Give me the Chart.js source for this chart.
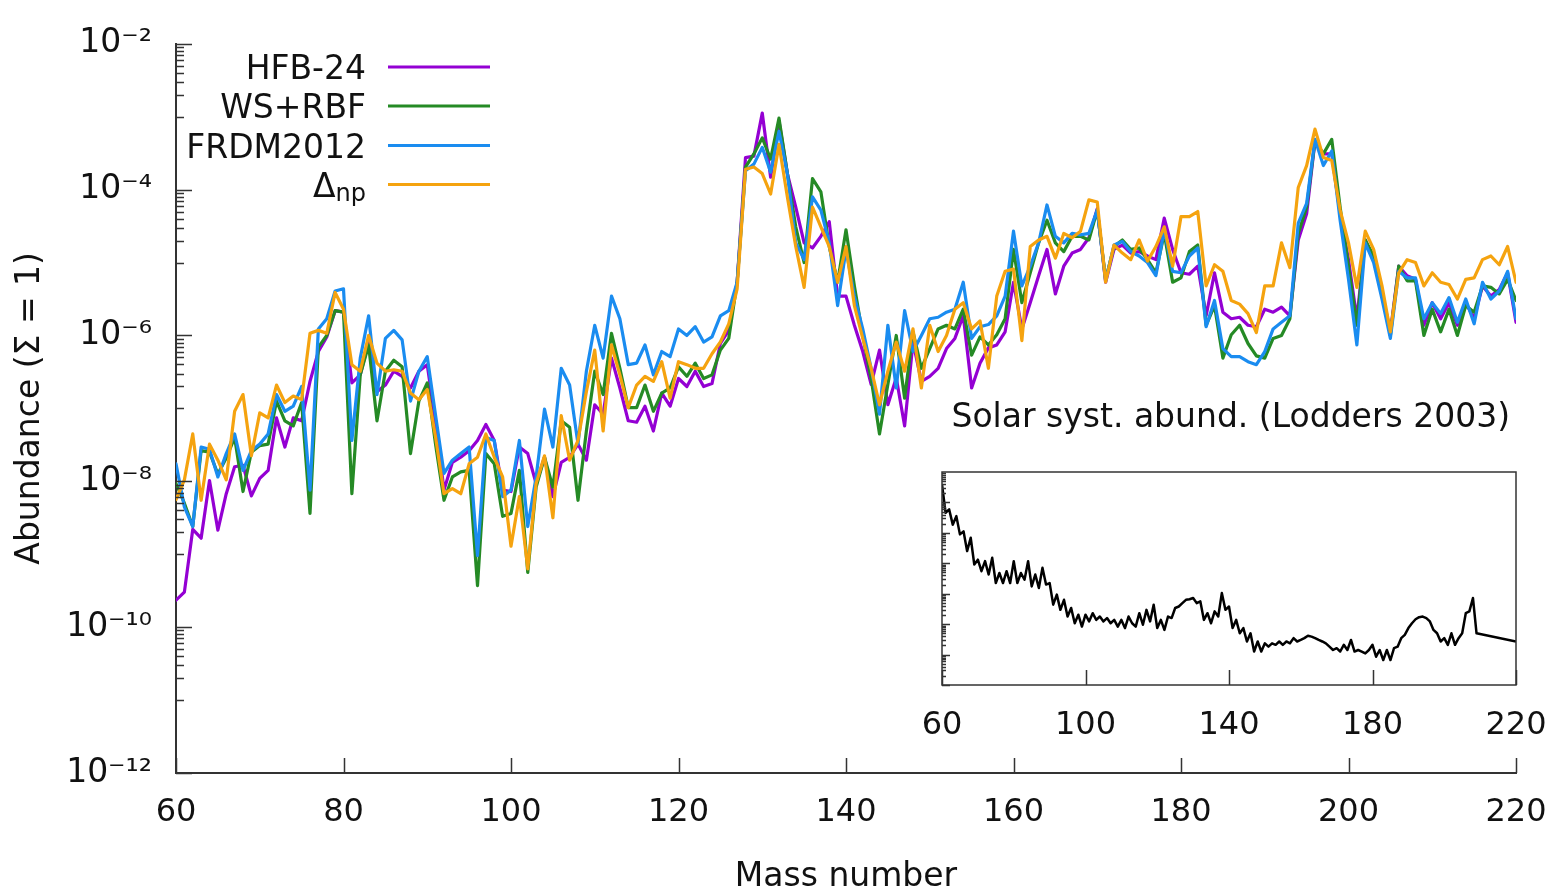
<!DOCTYPE html>
<html>
<head>
<meta charset="utf-8">
<title>r-process abundances</title>
<script src="https://cdn.jsdelivr.net/npm/chart.js@4.4.1/dist/chart.umd.min.js"></script>
<style>
    html, body { margin: 0; padding: 0; background: #ffffff; }
    #wrap { position: relative; width: 1555px; height: 888px; }
    #wrap canvas { position: absolute; left: 0; top: 0; }
</style>
</head>
<body>
<div id="wrap">
    <canvas id="main" width="1555" height="888"></canvas>
    <canvas id="inset" width="1555" height="888"></canvas>
</div>
<script>
// Mass numbers run from massFirst to massLast, one value per mass number.
var massFirst = 60;
var massLast = 220;

// log10 of the abundance, A = 60 ... 220
var hfb24Log = [
    -9.63, -9.52, -8.66, -8.78, -7.99, -8.67, -8.17, -7.80, -7.78, -8.20,
    -7.96, -7.85, -7.13, -7.53, -7.13, -7.17, -6.63, -6.22, -6.02, -5.66,
    -5.68, -6.65, -6.54, -6.09, -6.77, -6.68, -6.49, -6.56, -6.72, -6.49,
    -6.40, -7.20, -8.12, -7.74, -7.67, -7.58, -7.44, -7.22, -7.44, -8.12,
    -8.14, -7.53, -7.62, -8.03, -7.67, -8.21, -7.74, -7.67, -7.49, -7.71,
    -6.95, -7.08, -6.31, -6.72, -7.17, -7.19, -6.97, -7.31, -6.79, -6.97,
    -6.59, -6.70, -6.49, -6.70, -6.66, -6.11, -5.93, -5.27, -3.56, -3.54,
    -2.95, -3.83, -3.06, -3.78, -4.24, -4.73, -4.80, -4.64, -4.44, -5.46,
    -5.46, -5.86, -6.22, -6.67, -6.20, -6.95, -6.58, -7.24, -6.09, -6.63,
    -6.56, -6.45, -6.18, -6.04, -5.73, -6.72, -6.38, -6.17, -6.13, -5.95,
    -5.27, -5.91, -5.55, -5.18, -4.82, -5.43, -5.05, -4.87, -4.82, -4.66,
    -4.26, -5.27, -4.82, -4.76, -4.87, -4.85, -4.91, -4.96, -4.39, -4.82,
    -5.14, -5.16, -5.05, -5.73, -5.14, -5.68, -5.77, -5.75, -5.86, -5.88,
    -5.64, -5.68, -5.61, -5.73, -4.69, -4.33, -3.33, -3.51, -3.51, -4.33,
    -4.96, -5.77, -4.69, -4.96, -5.41, -5.95, -5.05, -5.18, -5.23, -5.86,
    -5.55, -5.77, -5.55, -5.86, -5.55, -5.77, -5.32, -5.46, -5.37, -5.14,
    -5.82
];

var wsrbfLog = [
    -8.03, -8.30, -8.62, -7.58, -7.60, -7.90, -7.68, -7.40, -8.14, -7.60,
    -7.51, -7.49, -6.90, -7.17, -7.24, -6.92, -8.44, -6.16, -6.00, -5.66,
    -5.68, -8.17, -6.54, -6.13, -7.17, -6.49, -6.34, -6.43, -7.62, -6.90,
    -6.65, -7.50, -8.26, -7.94, -7.87, -7.85, -9.43, -7.62, -7.76, -8.48,
    -8.44, -7.85, -9.25, -8.08, -7.67, -8.08, -7.17, -7.26, -8.26, -7.31,
    -6.49, -6.81, -5.97, -6.45, -6.99, -6.99, -6.68, -7.04, -6.79, -6.72,
    -6.43, -6.56, -6.38, -6.59, -6.54, -6.20, -6.04, -5.27, -3.69, -3.51,
    -3.29, -3.58, -3.02, -3.78, -4.51, -5.00, -3.85, -4.03, -4.78, -5.27,
    -4.55, -5.32, -6.00, -6.59, -7.35, -6.67, -6.00, -6.86, -5.95, -6.45,
    -6.18, -5.91, -5.86, -5.91, -5.64, -6.27, -6.02, -6.13, -5.99, -5.77,
    -4.82, -5.55, -5.14, -4.73, -4.42, -4.73, -4.85, -4.64, -4.64, -4.69,
    -4.28, -5.23, -4.78, -4.69, -4.82, -4.80, -4.96, -5.14, -4.60, -5.27,
    -5.21, -4.85, -4.76, -5.86, -5.59, -6.31, -5.99, -5.86, -6.11, -6.28,
    -6.31, -6.04, -6.00, -5.77, -4.60, -4.24, -3.33, -3.51, -3.31, -4.24,
    -5.05, -5.86, -4.69, -4.91, -5.41, -6.00, -5.05, -5.25, -5.25, -6.00,
    -5.64, -5.95, -5.64, -6.00, -5.59, -5.68, -5.32, -5.34, -5.43, -5.23,
    -5.52
];

var frdm2012Log = [
    -7.76, -8.35, -8.62, -7.53, -7.56, -7.94, -7.62, -7.35, -7.85, -7.58,
    -7.49, -7.35, -6.81, -7.04, -6.97, -6.70, -8.12, -5.91, -5.77, -5.39,
    -5.36, -7.44, -6.31, -5.73, -6.81, -6.04, -5.93, -6.06, -6.90, -6.49,
    -6.29, -7.10, -7.89, -7.71, -7.62, -7.53, -9.02, -7.40, -7.44, -8.21,
    -8.12, -7.44, -8.62, -7.94, -7.01, -7.53, -6.45, -6.68, -7.49, -6.49,
    -5.86, -6.31, -5.46, -5.77, -6.40, -6.38, -6.13, -6.54, -6.22, -6.29,
    -5.91, -6.00, -5.88, -6.09, -6.02, -5.73, -5.66, -5.27, -3.74, -3.65,
    -3.42, -3.76, -3.20, -3.78, -4.73, -4.96, -4.10, -4.28, -4.73, -5.59,
    -4.82, -5.46, -5.91, -6.45, -7.08, -5.86, -6.72, -5.66, -6.22, -6.00,
    -5.77, -5.75, -5.68, -5.64, -5.27, -6.04, -5.88, -5.85, -5.73, -5.46,
    -4.57, -5.32, -5.05, -4.73, -4.21, -4.64, -4.73, -4.60, -4.62, -4.60,
    -4.28, -5.25, -4.76, -4.71, -4.85, -4.91, -5.00, -5.18, -4.55, -5.12,
    -5.14, -4.91, -4.80, -5.88, -5.52, -6.18, -6.29, -6.29, -6.36, -6.40,
    -6.22, -5.91, -5.82, -5.73, -4.46, -4.19, -3.31, -3.67, -3.47, -4.42,
    -5.23, -6.13, -4.73, -5.00, -5.50, -6.04, -5.12, -5.21, -5.21, -5.77,
    -5.55, -5.70, -5.48, -5.82, -5.50, -5.84, -5.27, -5.50, -5.39, -5.12,
    -5.77
];

var deltaNpLog = [
    -8.25, -7.98, -7.35, -8.26, -7.49, -7.71, -7.98, -7.04, -6.81, -7.65,
    -7.06, -7.13, -6.68, -6.92, -6.83, -6.88, -5.97, -5.93, -5.97, -5.41,
    -5.64, -6.40, -6.49, -6.00, -6.38, -6.49, -6.47, -6.49, -6.79, -6.88,
    -6.74, -7.40, -8.17, -8.10, -8.17, -7.76, -7.67, -7.35, -7.67, -7.94,
    -8.89, -8.21, -9.20, -8.03, -7.65, -8.50, -7.10, -7.71, -7.44, -6.77,
    -6.20, -7.31, -6.13, -6.54, -6.99, -6.68, -6.56, -6.63, -6.36, -6.86,
    -6.36, -6.40, -6.45, -6.45, -6.25, -6.09, -5.84, -5.36, -3.72, -3.69,
    -3.78, -4.06, -3.38, -4.10, -4.78, -5.34, -4.24, -4.51, -4.78, -5.27,
    -4.78, -5.59, -6.04, -6.45, -6.95, -6.49, -6.09, -6.49, -5.91, -6.72,
    -5.86, -6.22, -6.00, -5.64, -5.55, -5.91, -5.80, -6.45, -5.46, -5.12,
    -5.09, -6.07, -4.78, -4.69, -4.64, -4.94, -4.60, -4.66, -4.57, -4.14,
    -4.17, -5.27, -4.76, -4.87, -4.96, -4.69, -4.98, -4.78, -4.51, -5.05,
    -4.37, -4.37, -4.30, -5.32, -5.03, -5.12, -5.52, -5.57, -5.70, -5.96,
    -5.32, -5.32, -4.73, -5.07, -3.97, -3.67, -3.17, -3.56, -3.60, -4.28,
    -4.73, -5.34, -4.57, -4.82, -5.32, -5.95, -5.14, -4.96, -5.00, -5.32,
    -5.14, -5.27, -5.30, -5.50, -5.23, -5.21, -4.96, -4.91, -5.03, -4.78,
    -5.27
];

// Solar system abundances for the inset (arbitrary decade offset), null = no point
var solarLog = [
    -2.41, -3.34, -3.23, -3.73, -3.45, -4.05, -3.95, -4.60, -4.16, -5.04,
    -4.88, -5.26, -4.93, -5.37, -4.82, -5.65, -5.32, -5.65, -5.26, -5.65,
    -4.93, -5.65, -5.32, -5.54, -4.93, -5.76, -5.37, -5.81, -5.15, -5.70,
    -5.65, -6.36, -6.03, -6.53, -6.20, -6.75, -6.47, -6.97, -6.69, -7.08,
    -6.69, -6.91, -6.64, -6.86, -6.75, -6.91, -6.80, -6.97, -6.86, -7.08,
    -6.86, -7.13, -6.75, -6.97, -7.08, -6.64, -7.02, -6.53, -6.91, -6.36,
    -7.13, -6.86, -7.19, -6.75, -6.80, -6.47, -6.42, -6.31, -6.20, -6.18,
    -6.14, -6.31, -6.25, -6.86, -6.64, -6.97, -6.58, -6.75, -5.98, -6.53,
    -6.42, -7.13, -6.86, -7.30, -7.13, -7.57, -7.30, -7.90, -7.57, -7.90,
    -7.63, -7.74, -7.63, -7.68, -7.57, -7.68, -7.57, -7.63, -7.46, -7.57,
    -7.52, -7.46, -7.38, -7.41, -7.46, -7.52, -7.57, -7.63, -7.74, -7.85,
    -7.79, -7.90, -7.68, -7.85, -7.52, -7.90, -7.85, -7.90, -7.96, -7.85,
    -7.68, -8.07, -7.85, -8.18, -7.85, -8.18, -7.79, -7.74, -7.46, -7.35,
    -7.13, -6.97, -6.84, -6.77, -6.75, -6.80, -6.91, -7.19, -7.30, -7.57,
    -7.46, -7.68, -7.30, -7.68, -7.46, -7.30, -6.64, -6.58, -6.14, -7.30,
    null, null, null, null, null, null, null, null, null, null,
    -7.57
];

var seriesNames = ['HFB-24', 'WS+RBF', 'FRDM2012', 'Δ'];
var seriesSubs = ['', '', '', 'np'];

var mainTicksX = [60, 80, 100, 120, 140, 160, 180, 200, 220];
var mainTicksY = [1e-12, 1e-10, 1e-8, 1e-6, 1e-4, 1e-2];
var insetTicksX = [60, 100, 140, 180, 220];
var insetLabel = 'Solar syst. abund. (Lodders 2003)';

(function () {

    var FONT = 'DejaVu Sans';
    var AXIS_COLOR = '#333333';
    var TEXT_COLOR = '#111111';
    var COLORS = ['#9400d3', '#258a25', '#1a8cf0', '#f5a30f'];
    var SUPER = { '-': '\u207b', '0': '\u2070', '1': '\u00b9', '2': '\u00b2', '3': '\u00b3',
        '4': '\u2074', '5': '\u2075', '6': '\u2076', '7': '\u2077', '8': '\u2078', '9': '\u2079' };

    /**
     * Builds {x, y} points from a list of log10 abundances.
     */
    function toPoints(logs) {
        var points = [], i;
        for (i = 0; i < logs.length; i++) {
            if (logs[i] === null) {
                continue;
            }
            points.push({ x: massFirst + i, y: Math.pow(10, logs[i]) });
        }
        return points;
    }

    function powerLabel(value) {
        var exp = String(Math.round(Math.log10(value)));
        return '10' + exp.split('').map(function (c) { return SUPER[c]; }).join('');
    }

    function fixedTicks(list) {
        return function (axis) {
            axis.ticks = list.map(function (v) { return { value: v }; });
        };
    }

    // Fixed axis height; the end labels must not push the plot area inwards.
    function fitHeight(height) {
        return function (scale) {
            scale.height = height;
            scale.paddingLeft = 0;
            scale.paddingRight = 0;
        };
    }

    /**
     * Inward tick marks and the legend of the main panel.
     */
    var mainDecor = {
        id: 'mainDecor',
        afterDraw: function (chart) {
            var ctx = chart.ctx, xs = chart.scales.x, ys = chart.scales.y;
            var area = chart.chartArea, e, k, py, px, i, rowY, name, w;

            ctx.save();
            ctx.strokeStyle = AXIS_COLOR;
            ctx.lineWidth = 1.5;
            ctx.beginPath();
            for (e = -12; e <= -2; e++) {
                if (e % 2 === 0) {
                    py = Math.round(ys.getPixelForValue(Math.pow(10, e))) + 0.5;
                    ctx.moveTo(area.left, py);
                    ctx.lineTo(area.left + 16, py);
                } else {
                    for (k = 1; k <= 9; k++) {
                        py = Math.round(ys.getPixelForValue(k * Math.pow(10, e))) + 0.5;
                        ctx.moveTo(area.left, py);
                        ctx.lineTo(area.left + 8, py);
                    }
                }
            }
            mainTicksX.forEach(function (v) {
                px = Math.round(xs.getPixelForValue(v)) + 0.5;
                ctx.moveTo(px, area.bottom);
                ctx.lineTo(px, area.bottom - 15);
            });
            ctx.stroke();

            // Legend: text right aligned, sample line to its right.
            rowY = [67, 106, 145.5, 184.5];
            ctx.fillStyle = TEXT_COLOR;
            ctx.textAlign = 'right';
            ctx.textBaseline = 'alphabetic';
            ctx.lineWidth = 3;
            for (i = 0; i < seriesNames.length; i++) {
                name = seriesNames[i];
                if (seriesSubs[i]) {
                    ctx.font = '24px "' + FONT + '"';
                    w = ctx.measureText(seriesSubs[i]).width;
                    ctx.fillText(seriesSubs[i], 366, rowY[i] + 16);
                    ctx.font = '33px "' + FONT + '"';
                    ctx.fillText(name, 366 - w, rowY[i] + 12);
                } else {
                    ctx.font = '33px "' + FONT + '"';
                    ctx.fillText(name, 366, rowY[i] + 12);
                }
                ctx.strokeStyle = COLORS[i];
                ctx.beginPath();
                ctx.moveTo(388, rowY[i]);
                ctx.lineTo(490, rowY[i]);
                ctx.stroke();
            }
            ctx.restore();
        }
    };

    /**
     * Frame, inward ticks and caption of the inset.
     */
    var insetDecor = {
        id: 'insetDecor',
        afterDraw: function (chart) {
            var ctx = chart.ctx, xs = chart.scales.x, ys = chart.scales.y;
            var area = chart.chartArea, e, k, py, px;

            ctx.save();
            ctx.strokeStyle = AXIS_COLOR;
            ctx.lineWidth = 1.5;
            ctx.strokeRect(area.left, area.top, area.right - area.left, area.bottom - area.top);
            ctx.beginPath();
            for (e = -9; e < -2; e++) {
                for (k = 1; k <= 9; k++) {
                    py = Math.round(ys.getPixelForValue(k * Math.pow(10, e))) + 0.5;
                    ctx.moveTo(area.left, py);
                    ctx.lineTo(area.left + (k === 1 ? 8 : 4), py);
                }
            }
            insetTicksX.forEach(function (v) {
                px = Math.round(xs.getPixelForValue(v)) + 0.5;
                ctx.moveTo(px, area.bottom);
                ctx.lineTo(px, area.bottom - 15);
            });
            ctx.stroke();

            ctx.fillStyle = TEXT_COLOR;
            ctx.font = '33px "' + FONT + '"';
            ctx.textAlign = 'right';
            ctx.textBaseline = 'alphabetic';
            ctx.fillText(insetLabel, 1510, 427);
            ctx.restore();
        }
    };

    var logs = [hfb24Log, wsrbfLog, frdm2012Log, deltaNpLog];
    var datasets = logs.map(function (list, i) {
        return {
            label: seriesNames[i] + seriesSubs[i],
            data: toPoints(list),
            borderColor: COLORS[i],
            borderWidth: 3.2,
            order: 3 - i
        };
    });

    var tickFont = { family: FONT, size: 32 };

    new Chart(document.getElementById('main'), {
        type: 'line',
        data: { datasets: datasets },
        options: {
            responsive: false,
            animation: false,
            events: [],
            layout: { padding: { left: 0, right: 39, top: 35, bottom: 0 } },
            elements: {
                point: { radius: 0 },
                line: { tension: 0, borderJoinStyle: 'round', borderCapStyle: 'round' }
            },
            plugins: { legend: { display: false }, tooltip: { enabled: false } },
            scales: {
                x: {
                    type: 'linear',
                    min: massFirst,
                    max: massLast,
                    afterBuildTicks: fixedTicks(mainTicksX),
                    afterFit: fitHeight(115),
                    grid: { display: false, drawTicks: false },
                    border: { display: true, color: AXIS_COLOR, width: 2 },
                    ticks: { font: tickFont, color: TEXT_COLOR, padding: 20, maxRotation: 0, autoSkip: false },
                    title: {
                        display: true,
                        text: 'Mass number',
                        color: TEXT_COLOR,
                        font: { family: FONT, size: 33, lineHeight: 0.6 },
                        padding: { top: 0, bottom: 1 }
                    }
                },
                y: {
                    type: 'logarithmic',
                    min: 1e-12,
                    max: 1e-2,
                    afterBuildTicks: fixedTicks(mainTicksY),
                    afterFit: function (scale) { scale.width = 176; },
                    grid: { display: false, drawTicks: false },
                    border: { display: true, color: AXIS_COLOR, width: 2 },
                    ticks: { font: { family: FONT, size: 33 }, color: TEXT_COLOR, padding: 24, callback: powerLabel },
                    title: {
                        display: true,
                        text: 'Abundance (\u03a3 = 1)',
                        color: TEXT_COLOR,
                        font: { family: FONT, size: 33 },
                        padding: { top: 11, bottom: 0 }
                    }
                }
            }
        },
        plugins: [mainDecor]
    });

    new Chart(document.getElementById('inset'), {
        type: 'line',
        data: {
            datasets: [{
                label: 'Solar',
                data: toPoints(solarLog),
                borderColor: '#000000',
                borderWidth: 2.5
            }]
        },
        options: {
            responsive: false,
            animation: false,
            events: [],
            layout: { padding: { left: 942, right: 39, top: 472, bottom: 0 } },
            elements: {
                point: { radius: 0 },
                line: { tension: 0, borderJoinStyle: 'round' }
            },
            plugins: { legend: { display: false }, tooltip: { enabled: false } },
            scales: {
                x: {
                    type: 'linear',
                    min: massFirst,
                    max: massLast,
                    afterBuildTicks: fixedTicks(insetTicksX),
                    afterFit: fitHeight(203),
                    grid: { display: false, drawTicks: false },
                    border: { display: false },
                    ticks: { font: tickFont, color: TEXT_COLOR, padding: 21, maxRotation: 0, autoSkip: false }
                },
                y: {
                    type: 'logarithmic',
                    min: 1e-9,
                    max: 1e-2,
                    display: false
                }
            }
        },
        plugins: [insetDecor]
    });

})();
</script>
</body>
</html>
